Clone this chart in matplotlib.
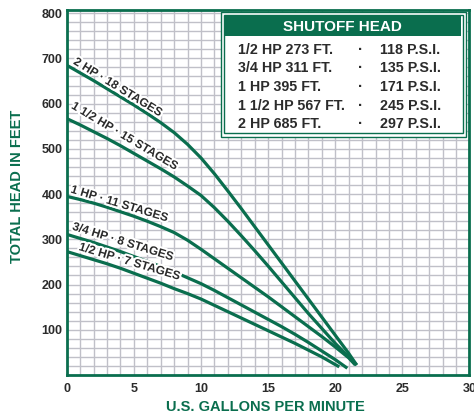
import matplotlib
matplotlib.use("Agg")
from matplotlib import pyplot as plt
from matplotlib.patches import Rectangle
import matplotlib.patheffects as pe

# pump curves (gpm -> feet of head)
gpm_half = [0, 1, 2, 3, 4, 5, 6, 7, 8, 9, 10, 11, 12, 13, 14, 15, 16, 17, 18, 19, 20.3]
head_half = [273, 264, 255, 246, 236, 225, 214, 203, 191, 180, 168, 154, 140, 126,
             112, 98, 84, 70, 55, 40, 18]

gpm_3q = [0, 1, 2, 3, 4, 5, 6, 7, 8, 9, 10, 11, 12, 13, 14, 15, 16, 17, 18, 19, 20, 20.9]
head_3q = [311, 302, 293, 283, 273, 262, 251, 240, 228, 215, 202, 187, 171, 155,
           139, 123, 107, 90, 72, 53, 34, 15]

gpm_1 = [0, 1, 2, 3, 4, 5, 6, 7, 8, 9, 10, 11, 12, 13, 14, 15, 16, 17, 18, 19, 20, 21, 21.5]
head_1 = [395, 388, 380, 371, 361, 351, 340, 328, 315, 298, 278, 257, 236, 215,
          194, 173, 151, 129, 107, 85, 62, 38, 22]

gpm_15 = [0, 1, 2, 3, 4, 5, 6, 7, 8, 9, 10, 11, 12, 13, 14, 15, 16, 17, 18, 19, 20, 21, 21.6]
head_15 = [567, 553, 538, 523, 507, 490, 473, 456, 438, 418, 397, 370, 340, 308,
           275, 241, 206, 171, 136, 103, 70, 40, 22]

gpm_2 = [0, 1, 2, 3, 4, 5, 6, 7, 8, 9, 10, 11, 12, 13, 14, 15, 16, 17, 18, 19, 20, 21, 21.6]
head_2 = [685, 668, 651, 633, 615, 597, 578, 558, 536, 510, 480, 445, 407, 368,
          328, 288, 248, 208, 168, 128, 88, 48, 22]

curve_names = ['1/2 HP · 7 STAGES', '3/4 HP · 8 STAGES', '1 HP · 11 STAGES',
               '1 1/2 HP · 15 STAGES', '2 HP · 18 STAGES']

shutoff_ft = ['1/2 HP 273 FT.', '3/4 HP 311 FT.', '1 HP 395 FT.',
              '1 1/2 HP 567 FT.', '2 HP 685 FT.']
shutoff_psi = ['118 P.S.I.', '135 P.S.I.', '171 P.S.I.', '245 P.S.I.', '297 P.S.I.']

xticks = [0, 5, 10, 15, 20, 25, 30]
yticks = [100, 200, 300, 400, 500, 600, 700, 800]

green = '#0a6e4e'
dark = '#2b2b2b'
plt.rcParams['font.family'] = ['Liberation Sans', 'DejaVu Sans']

fig = plt.figure(figsize=(4.74, 4.15), dpi=100)
ax = fig.add_axes([0.1407, 0.0964, 0.8498, 0.8795])
ax.set_xlim(0, 30)
ax.set_ylim(0, 807)

# graph paper grid
for gx in range(1, 30):
    ax.axvline(gx, color='#c0c0c8', lw=1.0, zorder=1)
for gy in range(20, 801, 20):
    ax.axhline(gy, color='#c0c0c8', lw=1.0, zorder=1)

series = [(gpm_half, head_half), (gpm_3q, head_3q), (gpm_1, head_1),
          (gpm_15, head_15), (gpm_2, head_2)]
for xs, ys in series:
    ax.plot(xs, ys, color=green, lw=2.3, zorder=3, solid_capstyle='butt',
            solid_joinstyle='round')

# labels along the curves: (x, y, angle)
label_pos = [(4.65, 250, -16.6), (4.15, 294, -17.2), (3.9, 378, -16.8),
             (4.28, 528, -30.8), (3.78, 636, -31.5)]
for name, (lx, ly, ang) in zip(curve_names, label_pos):
    ax.text(lx, ly, name, rotation=ang, rotation_mode='anchor',
            ha='center', va='center', fontsize=8.6, fontweight='bold',
            color=dark, zorder=4,
            path_effects=[pe.withStroke(linewidth=3, foreground='white')])

# shutoff head box
ax.add_patch(Rectangle((11.49, 527), 18.24, 275, facecolor='white',
                       edgecolor=green, lw=1.0, zorder=5))
ax.add_patch(Rectangle((11.75, 534.3), 17.78, 261.1, facecolor='none',
                       edgecolor=green, lw=1.0, zorder=6))
ax.add_patch(Rectangle((11.79, 748.5), 17.57, 44.2, facecolor=green,
                       edgecolor='none', zorder=6))
ax.text(20.57, 770, 'SHUTOFF HEAD', ha='center', va='center', color='white',
        fontsize=11, fontweight='bold', zorder=7)
row_y = [719, 678.5, 636.5, 595, 555]
for ft, psi, ry in zip(shutoff_ft, shutoff_psi, row_y):
    ax.text(12.78, ry, ft, ha='left', va='center', fontsize=10.3,
            fontweight='bold', color=dark, zorder=7)
    ax.text(21.9, ry, '·', ha='center', va='center', fontsize=11,
            fontweight='bold', color=dark, zorder=7)
    ax.text(23.33, ry, psi, ha='left', va='center', fontsize=10.3,
            fontweight='bold', color=dark, zorder=7)

for s in ax.spines.values():
    s.set_color(green)
    s.set_linewidth(2.0)
    s.set_zorder(8)

ax.set_xticks(xticks)
ax.set_yticks(yticks)
ax.tick_params(length=0, labelsize=9, labelcolor=dark)
ax.tick_params(axis='x', pad=6)
ax.tick_params(axis='y', pad=3)
for lab in ax.get_xticklabels() + ax.get_yticklabels():
    lab.set_fontweight('bold')

fig.text(265 / 474, 1 - 407 / 415, 'U.S. GALLONS PER MINUTE', ha='center',
         va='center', color=green, fontsize=10.5, fontweight='bold')
fig.text(17 / 474, 1 - 186 / 415, 'TOTAL HEAD IN FEET', ha='center',
         va='center', rotation=90, color=green, fontsize=10.5, fontweight='bold')

fig.savefig('out.png', dpi=100)
